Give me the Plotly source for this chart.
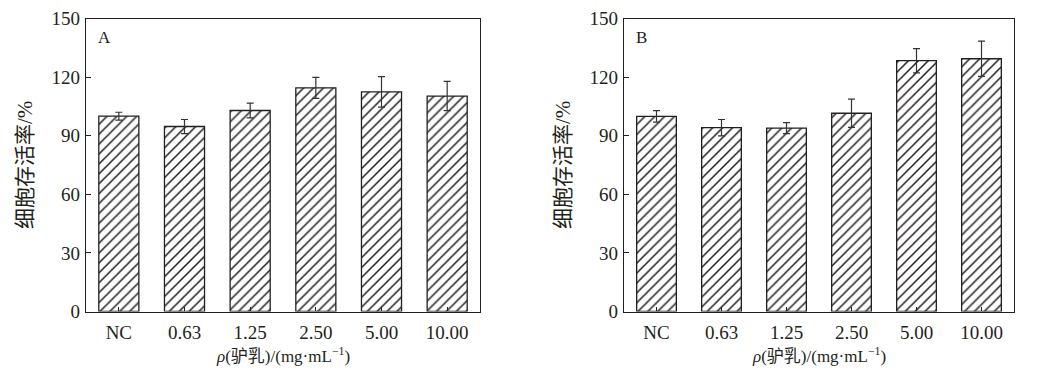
import plotly.graph_objects as go

categories = ["NC", "0.63", "1.25", "2.50", "5.00", "10.00"]
values_a = [100.0, 94.7, 102.9, 114.5, 112.4, 110.3]
errors_a = [2.0, 3.6, 3.8, 5.4, 7.8, 7.5]
values_b = [99.9, 94.1, 93.9, 101.5, 128.4, 129.4]
errors_b = [2.9, 4.2, 2.8, 7.2, 6.2, 9.0]
y_ticks = [0, 30, 60, 90, 120, 150]
panel_labels = ["A", "B"]
y_title = "细胞存活率/%"
x_title = "<i>ρ</i>(驴乳)/(mg·mL<sup>−1</sup>)"

FONT = "Liberation Serif, Times New Roman, Noto Sans CJK SC, serif"
INK = "#231f20"

fig = go.Figure()

for i, (vals, errs) in enumerate([(values_a, errors_a), (values_b, errors_b)]):
    xa = "x" if i == 0 else "x2"
    ya = "y" if i == 0 else "y2"
    fig.add_trace(go.Bar(
        x=categories, y=vals, xaxis=xa, yaxis=ya,
        width=0.61,
        marker=dict(
            color="white",
            line=dict(color=INK, width=1.3),
            pattern=dict(shape="/", fgcolor=INK, fgopacity=1, bgcolor="white",
                         size=7, solidity=0.22),
        ),
        error_y=dict(type="data", array=errs, visible=True, color="#333",
                     thickness=1.2, width=3.5),
        showlegend=False,
    ))

# page body has an 8px margin: figure pixel = window pixel - 8
OFF = 8
W, H = 1043 - 2 * OFF, 375 - 2 * OFF


def px(v):
    return (v - OFF) / W


def py(v):
    return 1 - (v - OFF) / H


xdomains = [[px(86), px(480)], [px(624), px(1014)]]
ydomain = [py(311.5), py(18.5)]

axis_common = dict(
    showline=True, linecolor=INK, linewidth=1.2, mirror=True,
    showgrid=False, zeroline=False, automargin=False,
    tickfont=dict(family=FONT, size=19, color=INK),
    ticks="inside", tickcolor=INK, ticklen=5, tickwidth=1.2,
)

layout = dict(
    width=W, height=H,
    margin=dict(l=0, r=0, t=0, b=0),
    plot_bgcolor="white", paper_bgcolor="white",
    font=dict(family=FONT, color=INK),
)

for i in range(2):
    sx = "" if i == 0 else "2"
    layout["xaxis" + sx] = dict(
        axis_common, domain=xdomains[i], anchor="y" + sx,
        range=[-0.5, 5.5], ticklen=4, ticklabelstandoff=4,
    )
    layout["yaxis" + sx] = dict(
        axis_common, domain=ydomain, anchor="x" + sx,
        range=[0, 150], tickvals=y_ticks, ticklabelstandoff=1,
    )

fig.update_layout(**layout)

for i, lab in enumerate(panel_labels):
    sx = "" if i == 0 else "2"
    x0, x1 = xdomains[i]
    fig.add_annotation(
        text=lab, xref="x" + sx + " domain", yref="y" + sx + " domain",
        x=0.025, y=0.935, xanchor="left", yanchor="middle", showarrow=False,
        font=dict(family=FONT, size=17, color=INK),
    )
    fig.add_annotation(
        text=y_title, xref="paper", yref="paper",
        x=x0 - 61 / W, y=sum(ydomain) / 2, textangle=-90,
        xanchor="center", yanchor="middle", showarrow=False,
        font=dict(family=FONT, size=21, color=INK),
    )
    fig.add_annotation(
        text=x_title, xref="paper", yref="paper",
        x=(x0 + x1) / 2, y=py(354.5),
        xanchor="center", yanchor="middle", showarrow=False,
        font=dict(family=FONT, size=17, color=INK),
    )

fig.write_html("out.html")
